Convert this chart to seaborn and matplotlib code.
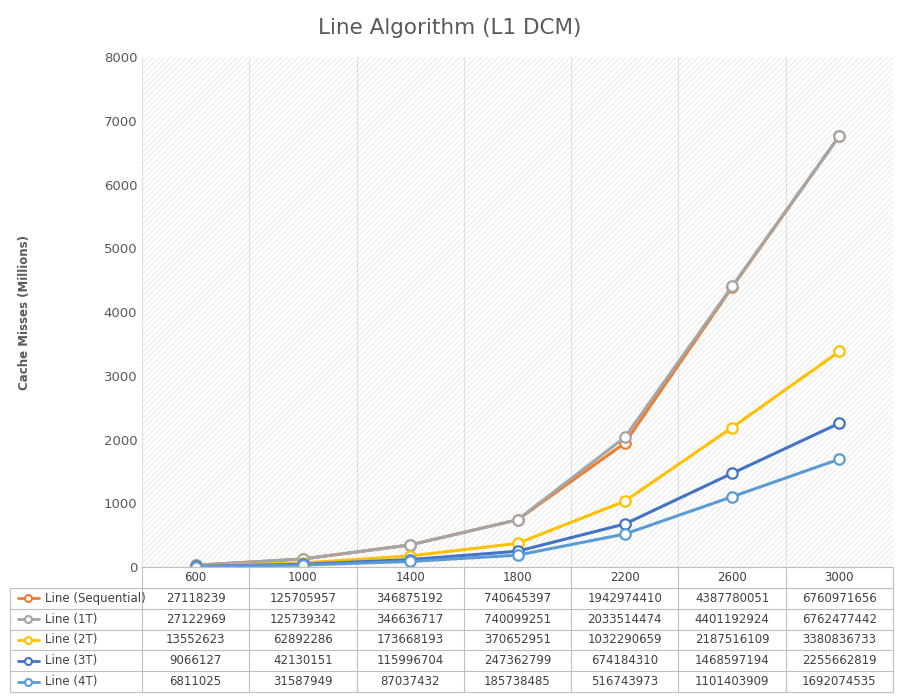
import pandas as pd
import seaborn as sns
import matplotlib.pyplot as plt
from matplotlib.patches import Rectangle
from matplotlib.lines import Line2D

sizes = ["600", "1000", "1400", "1800", "2200", "2600", "3000"]
series = ["Line (Sequential)", "Line (1T)", "Line (2T)", "Line (3T)", "Line (4T)"]
seq = [27118239, 125705957, 346875192, 740645397, 1942974410, 4387780051, 6760971656]
t1 = [27122969, 125739342, 346636717, 740099251, 2033514474, 4401192924, 6762477442]
t2 = [13552623, 62892286, 173668193, 370652951, 1032290659, 2187516109, 3380836733]
t3 = [9066127, 42130151, 115996704, 247362799, 674184310, 1468597194, 2255662819]
t4 = [6811025, 31587949, 87037432, 185738485, 516743973, 1101403909, 1692074535]
values = [seq, t1, t2, t3, t4]
colors = ["#ED7D31", "#A5A5A5", "#FFC000", "#4472C4", "#5B9BD5"]

rows = []
for name, vals in zip(series, values):
    for i, v in enumerate(vals):
        rows.append({"size": i, "series": name, "misses": v / 1e6})
df = pd.DataFrame(rows)

sns.set_style("white")
plt.rcParams["font.family"] = ["DejaVu Sans"]
plt.rcParams["hatch.linewidth"] = 0.6
fig = plt.figure(figsize=(9, 7), dpi=100)
ax = fig.add_axes([142 / 900, 1 - 567 / 700, 751 / 900, 510 / 700])
ax.add_patch(Rectangle((0, 0), 1, 1, transform=ax.transAxes, facecolor="white",
                       hatch="//////", edgecolor="#E6E6E6", linewidth=0, zorder=0))
for k in range(8):
    ax.axvline(k - 0.5, color="#E0E0E0", lw=0.8, zorder=0.5)
sns.lineplot(data=df, x="size", y="misses", hue="series", palette=colors,
             marker="o", markersize=7.5, markerfacecolor="white", markeredgewidth=1.6,
             linewidth=2.2, legend=False, ax=ax)
for line, c in zip(ax.lines[8:], colors):
    line.set_markeredgecolor(c)
ax.set_xlim(-0.5, 6.5)
ax.set_ylim(0, 8000)
ax.set_yticks(range(0, 8001, 1000))
ax.tick_params(axis="y", labelsize=9.5, colors="#595959", length=0)
ax.set_xticks([])
ax.set_xlabel("")
ax.set_ylabel("Cache Misses (Millions)", fontsize=8.5, fontweight="bold", color="#595959", labelpad=52)
for s in ax.spines.values():
    s.set_visible(False)
ax.spines["bottom"].set_visible(True)
ax.spines["bottom"].set_color("#D9D9D9")
fig.suptitle("Line Algorithm (L1 DCM)", y=0.975, fontsize=15.5, color="#595959")

# data table below the plot
tx = fig.add_axes([142 / 900, 1 - 692 / 700, 751 / 900, 125 / 700])
tx.set_xlim(-0.5, 6.5)
tx.set_ylim(6, 0)
tx.axis("off")
left = -0.5 - 132 / (751 / 7)
gc = "#BFBFBF"
for r in range(7):
    x0 = -0.5 if r == 0 else left
    tx.plot([x0, 6.5], [r, r], color=gc, lw=0.8, clip_on=False)
for k in range(8):
    tx.plot([k - 0.5] * 2, [0, 6], color=gc, lw=0.8, clip_on=False)
tx.plot([left, left], [1, 6], color=gc, lw=0.8, clip_on=False)
for i, s in enumerate(sizes):
    tx.text(i, 0.5, s, ha="center", va="center", fontsize=8.5, color="#404040")
for r, (name, vals, c) in enumerate(zip(series, values, colors), start=1):
    tx.add_line(Line2D([left + 0.07, left + 0.27], [r + 0.5] * 2, color=c, lw=2, clip_on=False))
    tx.plot(left + 0.17, r + 0.5, "o", color=c, mfc="white", ms=5, mew=1.5, clip_on=False)
    tx.text(left + 0.33, r + 0.5, name, ha="left", va="center", fontsize=8.5, color="#404040")
    for i, v in enumerate(vals):
        tx.text(i, r + 0.5, str(v), ha="center", va="center", fontsize=8.5, color="#404040")

fig.savefig("out.png")
